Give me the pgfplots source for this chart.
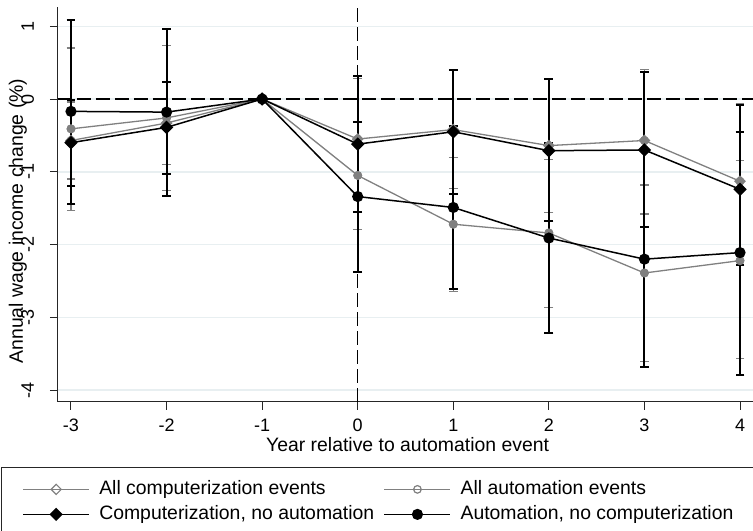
\documentclass[border=0pt]{standalone}
\usepackage{fontspec}
\setmainfont{Liberation Sans}
\usepackage{pgfplots}
\pgfplotsset{compat=1.18}
\usepackage{pgfplotstable}

\definecolor{gridc}{RGB}{232,239,241}
\definecolor{sgray}{RGB}{128,128,128}

% x y lo hi
\pgfplotstableread{
x y lo hi
-3 -0.57 -1.10 -0.04
-2 -0.33 -0.90 0.24
-1 0 0 0
0 -0.55 -1.38 0.28
1 -0.42 -1.23 0.39
2 -0.64 -1.56 0.28
3 -0.57 -1.58 0.41
4 -1.13 -2.20 -0.06
}\tabA
\pgfplotstableread{
x y lo hi
-3 -0.41 -1.53 0.70
-2 -0.26 -1.26 0.74
-1 0 0 0
0 -1.05 -1.79 -0.31
1 -1.72 -2.64 -0.80
2 -1.84 -2.86 -0.83
3 -2.39 -3.61 -1.18
4 -2.22 -3.56 -0.85
}\tabB
\pgfplotstableread{
x y lo hi
-3 -0.60 -1.19 -0.01
-2 -0.39 -1.03 0.23
-1 0 0 0
0 -0.62 -1.55 0.31
1 -0.45 -1.31 0.40
2 -0.71 -1.68 0.27
3 -0.70 -1.76 0.37
4 -1.24 -2.28 -0.08
}\tabC
\pgfplotstableread{
x y lo hi
-3 -0.17 -1.44 1.09
-2 -0.18 -1.33 0.96
-1 0 0 0
0 -1.34 -2.37 -0.31
1 -1.49 -2.61 -0.37
2 -1.91 -3.21 -0.61
3 -2.20 -3.68 -0.72
4 -2.11 -3.79 -0.45
}\tabD

\begin{document}
\begin{tikzpicture}
\begin{axis}[
  name=ax,
  scale only axis,
  width=347.5pt, height=197.5pt,
  xmin=-3.136, xmax=4.136, ymin=-4.162, ymax=1.264,
  axis x line*=bottom, axis y line*=left,
  axis line style={-, line width=0.5pt, black!85},
  tick align=outside,
  major tick length=4pt,
  tick style={line width=0.5pt, black!85},
  xtick={-3,-2,-1,0,1,2,3,4},
  xticklabels={-3,-2,-1,0,1,2,3,4},
  ytick={-4,-3,-2,-1,0,1},
  yticklabels={-4,-3,-2,-1,0,1},
  ymajorgrids,
  grid style={gridc, line width=0.7pt},
  ticklabel style={font=\fontsize{9}{10}\selectfont},
  xticklabel style={anchor=base, yshift=-11pt},
  yticklabel style={xshift=-8pt, rotate=90, anchor=base},
  xlabel={Year relative to automation event},
  ylabel={Annual wage income change (\%)},
  label style={font=\fontsize{9.7}{11.6}\selectfont},
  xlabel style={at={(axis description cs:0.503,-0.1266)}, anchor=base, inner sep=0pt},
  ylabel style={at={(axis description cs:-0.0504,0.458)}, anchor=base, inner sep=0pt},
  clip=false,
  legend columns=2,
  legend cell align=left,
  legend style={draw=none, fill=none, at={(-0.0518,-0.1949)}, anchor=north west,
    inner sep=0pt, column sep=2.7pt, row sep=2.5pt,
    nodes={inner ysep=0pt, text height=7.5pt, text depth=2.5pt},
    font=\fontsize{9.7}{11.6}\selectfont},
  legend image code/.code={\draw[mark repeat=2,mark phase=2,#1] plot coordinates {(0pt,0pt) (16.5pt,0pt) (33pt,0pt)};},
]
% reference lines
\draw[black, dash pattern=on 7pt off 2.5pt, line width=0.7pt] (axis cs:-3.136,0) -- (axis cs:4.136,0);
\draw[black, dash pattern=on 7pt off 2.5pt, line width=0.7pt] (axis cs:0,-4.162) -- (axis cs:0,1.264);

% error bars (gray)
\addplot[sgray, only marks, mark=none, forget plot,
  error bars/.cd, y dir=both, y explicit,
  error bar style={line width=0.6pt, sgray},
  error mark options={rotate=90, mark size=2.2pt, line width=0.6pt, sgray}]
  table[x=x, y=y, y error plus expr=\thisrow{hi}-\thisrow{y}, y error minus expr=\thisrow{y}-\thisrow{lo}] {\tabA};
\addplot[sgray, only marks, mark=none, forget plot,
  error bars/.cd, y dir=both, y explicit,
  error bar style={line width=0.6pt, sgray},
  error mark options={rotate=90, mark size=2.2pt, line width=0.6pt, sgray}]
  table[x=x, y=y, y error plus expr=\thisrow{hi}-\thisrow{y}, y error minus expr=\thisrow{y}-\thisrow{lo}] {\tabB};
% error bars (black)
\addplot[black, only marks, mark=none, forget plot,
  error bars/.cd, y dir=both, y explicit,
  error bar style={line width=1pt, black},
  error mark options={rotate=90, mark size=2.2pt, line width=1pt, black}]
  table[x=x, y=y, y error plus expr=\thisrow{hi}-\thisrow{y}, y error minus expr=\thisrow{y}-\thisrow{lo}] {\tabC};
\addplot[black, only marks, mark=none, forget plot,
  error bars/.cd, y dir=both, y explicit,
  error bar style={line width=1pt, black},
  error mark options={rotate=90, mark size=2.2pt, line width=1pt, black}]
  table[x=x, y=y, y error plus expr=\thisrow{hi}-\thisrow{y}, y error minus expr=\thisrow{y}-\thisrow{lo}] {\tabD};

% series
\addplot[sgray, line width=0.65pt, mark=square, mark size=1.8pt, mark options={rotate=45, solid, line width=0.6pt}]
  table[x=x, y=y] {\tabA};
\addlegendentry{All computerization events}
\addplot[sgray, line width=0.65pt, mark=o, mark size=1.9pt, mark options={solid, line width=0.6pt}]
  table[x=x, y=y] {\tabB};
\addlegendentry{All automation events}
\addplot[black, line width=0.75pt, mark=square*, mark size=2pt, mark options={rotate=45, solid}]
  table[x=x, y=y] {\tabC};
\addlegendentry{Computerization, no automation}
\addplot[black, line width=0.75pt, mark=*, mark size=2.4pt, mark options={solid}]
  table[x=x, y=y] {\tabD};
\addlegendentry{Automation, no computerization}

% legend frame
\draw[black!85, line width=0.5pt] (rel axis cs:-0.0806,-0.36) -- (rel axis cs:-0.0806,-0.1671) -- (rel axis cs:1.0072,-0.1671) -- (rel axis cs:1.0072,-0.36);

\coordinate (BL) at (rel axis cs:-0.08345,-0.32658);
\coordinate (TR) at (rel axis cs:1,1.01772);
\end{axis}
\pgfresetboundingbox
\useasboundingbox (BL) rectangle (TR);
\end{tikzpicture}
\end{document}
